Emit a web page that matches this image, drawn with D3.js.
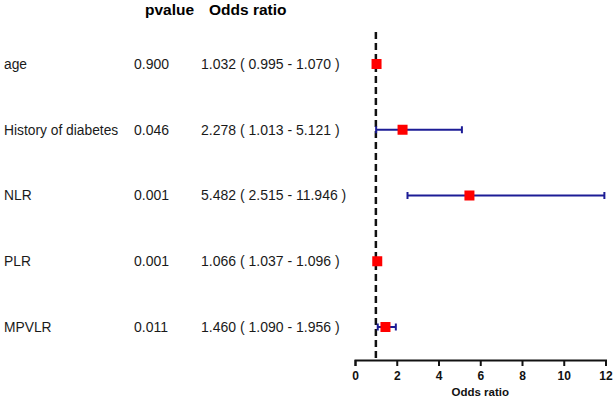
<!DOCTYPE html>
<html>
<head>
  <meta charset="utf-8">
  <script src="https://cdn.jsdelivr.net/npm/d3@7"></script>
  <style>
    body { margin: 0; background: #fff; }
    text { font-family: Arial, "Liberation Sans", sans-serif; }
  </style>
</head>
<body>
<script>
  // forest plot data
  var labels = ["age", "History of diabetes", "NLR", "PLR", "MPVLR"];
  var pvalues = ["0.900", "0.046", "0.001", "0.001", "0.011"];
  var oddsRatio = [1.032, 2.278, 5.482, 1.066, 1.460];
  var lower = [0.995, 1.013, 2.515, 1.037, 1.090];
  var upper = [1.070, 5.121, 11.946, 1.096, 1.956];
  var xTicks = [0, 2, 4, 6, 8, 10, 12];

  var width = 615, height = 399;

  var svg = d3.select("body").append("svg")
      .attr("width", width)
      .attr("height", height);

  var x = d3.scaleLinear().domain([0, 12]).range([355, 605.5]);
  var y = d3.scalePoint().domain(d3.range(labels.length)).range([64, 327]);

  // header
  svg.append("text").attr("x", 145).attr("y", 15)
      .style("font-size", "15.5px").style("font-weight", "bold").text("pvalue");
  svg.append("text").attr("x", 209).attr("y", 15)
      .style("font-size", "15.5px").style("font-weight", "bold").text("Odds ratio");

  // left text columns
  var rows = svg.selectAll(".row").data(labels).enter().append("g")
      .attr("class", "row")
      .attr("transform", function (d, i) { return "translate(0," + y(i) + ")"; });

  rows.append("text").attr("x", 4).attr("dy", "0.35em")
      .style("font-size", "13.8px").style("fill", "#1a1a1a")
      .text(function (d) { return d; });
  rows.append("text").attr("x", 134).attr("dy", "0.35em")
      .style("font-size", "14px").style("fill", "#1a1a1a")
      .text(function (d, i) { return pvalues[i]; });
  rows.append("text").attr("x", 201).attr("dy", "0.35em")
      .style("font-size", "14px").style("fill", "#1a1a1a")
      .text(function (d, i) {
        return oddsRatio[i].toFixed(3) + " ( " + lower[i].toFixed(3) + " - " + upper[i].toFixed(3) + " )";
      });

  // x axis
  var axisY = 360;
  var xAxis = d3.axisBottom(x).tickValues(xTicks).tickSize(6).tickPadding(5);
  var ax = svg.append("g").attr("transform", "translate(0," + axisY + ")").call(xAxis);
  ax.select(".domain").attr("stroke", "#111").attr("stroke-width", 2);
  ax.selectAll(".tick line").attr("stroke", "#111").attr("stroke-width", 2);
  ax.selectAll(".tick text")
      .style("font-size", "12px").style("font-weight", "bold").style("fill", "#111")
      .style("font-family", "Arial, 'Liberation Sans', sans-serif");

  svg.append("text").attr("x", (x(0) + x(12)) / 2).attr("y", 396)
      .attr("text-anchor", "middle")
      .style("font-size", "11.5px").style("font-weight", "bold").style("fill", "#111")
      .text("Odds ratio");

  // reference line at OR = 1
  svg.append("line")
      .attr("x1", x(1)).attr("x2", x(1))
      .attr("y1", 32).attr("y2", axisY)
      .attr("stroke", "#111").attr("stroke-width", 2.5)
      .attr("stroke-dasharray", "7,4");

  // error bars
  var blue = "#1c1c96";
  var bars = svg.selectAll(".ci").data(labels).enter().append("g").attr("class", "ci");
  bars.append("line")
      .attr("x1", function (d, i) { return x(lower[i]); })
      .attr("x2", function (d, i) { return x(upper[i]); })
      .attr("y1", function (d, i) { return y(i); })
      .attr("y2", function (d, i) { return y(i); })
      .attr("stroke", blue).attr("stroke-width", 2);
  bars.append("line")
      .attr("x1", function (d, i) { return x(lower[i]); })
      .attr("x2", function (d, i) { return x(lower[i]); })
      .attr("y1", function (d, i) { return y(i) - 3.5; })
      .attr("y2", function (d, i) { return y(i) + 3.5; })
      .attr("stroke", blue).attr("stroke-width", 2);
  bars.append("line")
      .attr("x1", function (d, i) { return x(upper[i]); })
      .attr("x2", function (d, i) { return x(upper[i]); })
      .attr("y1", function (d, i) { return y(i) - 3.5; })
      .attr("y2", function (d, i) { return y(i) + 3.5; })
      .attr("stroke", blue).attr("stroke-width", 2);

  // point estimates
  var sq = 10;
  svg.selectAll(".pt").data(labels).enter().append("rect")
      .attr("class", "pt")
      .attr("x", function (d, i) { return x(oddsRatio[i]) - sq / 2; })
      .attr("y", function (d, i) { return y(i) - sq / 2; })
      .attr("width", sq).attr("height", sq)
      .attr("fill", "#ff0000");
</script>
</body>
</html>
